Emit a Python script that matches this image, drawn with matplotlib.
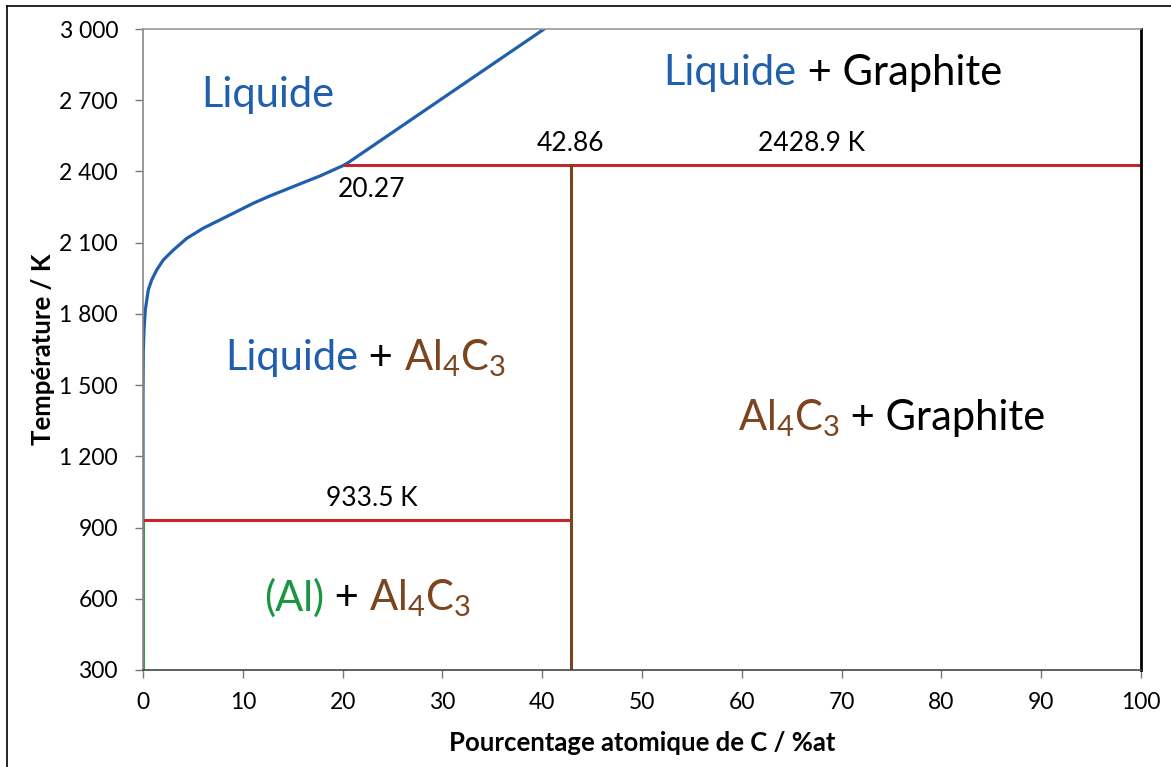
import matplotlib
matplotlib.use("Agg")
import matplotlib.pyplot as plt
from matplotlib.offsetbox import TextArea, HPacker, AnnotationBbox
from matplotlib.lines import Line2D

plt.rcParams["font.family"] = ["Lato", "DejaVu Sans"]
plt.rcParams["mathtext.fontset"] = "custom"
plt.rcParams["mathtext.rm"] = "Lato"
plt.rcParams["mathtext.default"] = "regular"

liquidus_x = [0, 0, 0.03, 0.1, 0.23, 0.53, 0.87, 1.37, 2.03, 3.04, 4.38, 6.04, 7.72,
              9.39, 11.05, 12.73, 14.4, 16.06, 17.74, 20.27]
liquidus_y = [933.5, 1451, 1648, 1732, 1816, 1901, 1943, 1985, 2027, 2069, 2118, 2161, 2196,
              2231, 2266, 2297, 2325, 2353, 2381, 2428.9]
graphite_x = [20.27, 40.2]
graphite_y = [2428.9, 3000]
al_x = [0, 0]
al_y = [300, 933.5]
eutectique_T = 933.5
peritectique_T = 2428.9
x_peri = 20.27
x_al4c3 = 42.86

yticks = [300, 600, 900, 1200, 1500, 1800, 2100, 2400, 2700, 3000]
ytick_labels = ["300", "600", "900", "1 200", "1 500", "1 800", "2 100", "2 400", "2 700", "3 000"]
xticks = list(range(0, 101, 10))

BLEU = "#1f5fad"
ROUGE = "#c1272d"
BRUN = "#7b4520"
VERT = "#1a9641"

fig = plt.figure(figsize=(11.71, 7.67), dpi=100)
ax = fig.add_axes([143 / 1171, 97 / 767, 998 / 1171, 641 / 767])

ax.plot(liquidus_x, liquidus_y, color=BLEU, lw=2.3, solid_joinstyle="round")
ax.plot(graphite_x, graphite_y, color=BLEU, lw=2.3)
ax.plot(al_x, al_y, color=VERT, lw=2.0)
ax.plot([0, x_al4c3], [eutectique_T, eutectique_T], color=ROUGE, lw=2.2)
ax.plot([x_peri, 100], [peritectique_T, peritectique_T], color=ROUGE, lw=2.2)
ax.plot([x_al4c3, x_al4c3], [300, peritectique_T], color=BRUN, lw=2.2)

ax.set_xlim(0, 100)
ax.set_ylim(300, 3000)
ax.set_xticks(xticks)
ax.set_yticks(yticks)
ax.set_yticklabels(ytick_labels)
ax.tick_params(axis="both", direction="out", length=6, width=1, color="#777777",
               labelsize=16.5, labelcolor="black")
ax.tick_params(axis="y", pad=12)
ax.tick_params(axis="x", pad=10)

ax.spines["left"].set_color("#888888")
ax.spines["top"].set_color("#999999")
ax.spines["bottom"].set_color("#444444")
ax.spines["right"].set_color("black")
ax.spines["right"].set_linewidth(2)
for s in ["left", "top", "bottom"]:
    ax.spines[s].set_linewidth(1.2)

ax.set_xlabel("Pourcentage atomique de C / %at", fontsize=18.5, fontweight="bold")
ax.set_ylabel("Température / K", fontsize=18.5, fontweight="bold")
ax.xaxis.set_label_coords(0.5, -0.095)
ax.yaxis.set_label_coords(-0.088, 0.5)

# valeurs remarquables
fs_val = 19
ax.text(x_al4c3, 2465, "42.86", ha="center", va="bottom", fontsize=fs_val)
ax.text(67.0, 2465, "2428.9 K", ha="center", va="bottom", fontsize=fs_val)
ax.text(22.9, 2326, "20.27", ha="center", va="center", fontsize=fs_val)
ax.text(22.9, 970, "933.5 K", ha="center", va="bottom", fontsize=fs_val)


def etiquette(x, y, morceaux, fs=30):
    boites = [TextArea(t, textprops=dict(color=c, fontsize=fs)) for t, c in morceaux]
    pack = HPacker(children=boites, align="baseline", pad=0, sep=0)
    ab = AnnotationBbox(pack, (x, y), xycoords="data", frameon=False,
                        box_alignment=(0.5, 0.5), pad=0)
    ax.add_artist(ab)


al4c3 = r"Al$_4$C$_3$"
etiquette(12.5, 2722, [("Liquide", BLEU)])
etiquette(69.1, 2815, [("Liquide", BLEU), (" + Graphite", "black")])
etiquette(22.3, 1614, [("Liquide", BLEU), (" + ", "black"), (al4c3, BRUN)])
etiquette(75.0, 1361, [(al4c3, BRUN), (" + Graphite", "black")])
etiquette(22.5, 603, [("(Al)", VERT), (" + ", "black"), (al4c3, BRUN)])

# cadre autour de la figure
fig.add_artist(Line2D([7 / 1171, 7 / 1171], [0, 1 - 6 / 767], color="black", lw=1.2,
                      transform=fig.transFigure))
fig.add_artist(Line2D([7 / 1171, 1], [1 - 6 / 767, 1 - 6 / 767], color="black", lw=1.2,
                      transform=fig.transFigure))

fig.savefig("out.png", dpi=100)
